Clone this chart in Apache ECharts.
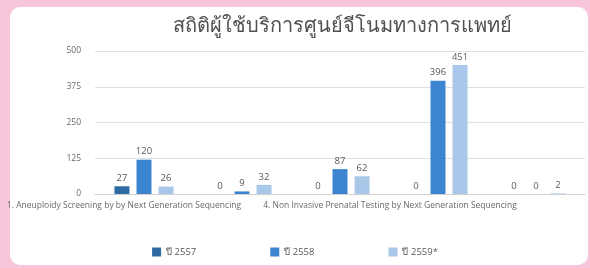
<!DOCTYPE html>
<html><head><meta charset="utf-8">
<script src="https://cdn.jsdelivr.net/npm/echarts@6/dist/echarts.min.js"></script>
<style>
html,body{margin:0;padding:0;background:#f7c6da;width:590px;height:268px;overflow:hidden}
#card{position:absolute;left:10px;top:7px;width:578px;height:258px;background:#fff;border-radius:10px}
#c{position:absolute;left:0;top:0;width:590px;height:268px}
</style></head><body>
<div id="card"></div>
<div id="c"></div>
<script>
const title = 'สถิติผู้ใช้บริการศูนย์จีโนมทางการแพทย์';
const categories = [
  '1. Aneuploidy Screening by by Next Generation Sequencing',
  '2.',
  '3.',
  '4. Non Invasive Prenatal Testing by Next Generation Sequencing',
  '5.'
];
const seriesNames = ['ปี 2557', 'ปี 2558', 'ปี 2559*'];
const y2557 = [27, 0, 0, 0, 0];
const y2558 = [120, 9, 87, 396, 0];
const y2559 = [26, 32, 62, 451, 2];
const yTicks = [0, 125, 250, 375, 500];
const colors = ['#2f6aa3', '#3d85d0', '#a9c7e8'];

const chart = echarts.init(document.getElementById('c'), null, {renderer:'canvas'});
const labelPad = [[0,40,0,0],[0,0,0,0],[0,0,0,0],[0,96,0,0],[0,0,0,0]];
const mk = (name, data, i) => ({
  name, type:'bar', data, barWidth:15, barGap:'47%',
  itemStyle:{color:colors[i]},
  label:{show:true, position:'top', color:'#595959', fontSize:9.5, fontFamily:'Open Sans', distance:3}
});
chart.setOption({
  animation:false,
  title:{text:title, left:337, top:11, textAlign:'center',
    textStyle:{fontSize:20, color:'#505050', fontWeight:'normal', fontFamily:'Noto Sans'}},
  legend:{bottom:6, left:'center', itemWidth:9, itemHeight:9, itemGap:74,
    icon:'rect', textStyle:{color:'#595959', fontSize:9.5, fontFamily:'Open Sans'}, data:seriesNames},
  grid:{left:95, right:5, top:51, bottom:74, containLabel:false, outerBoundsMode:'none'},
  xAxis:{type:'category',
    data:categories.map((c,i)=>({value:c, textStyle:{padding:labelPad[i]}})),
    axisTick:{show:false},
    axisLine:{lineStyle:{color:'#d0d0d0'}},
    axisLabel:{interval:2, color:'#6a6a6a', fontSize:8.5, fontFamily:'Open Sans', margin:7}},
  yAxis:{type:'value', min:yTicks[0], max:yTicks[yTicks.length-1], interval:125,
    axisLabel:{color:'#6a6a6a', fontSize:8.5, fontFamily:'Open Sans', margin:14},
    splitLine:{lineStyle:{color:'#e0e0e0'}}},
  series:[mk(seriesNames[0], y2557, 0), mk(seriesNames[1], y2558, 1), mk(seriesNames[2], y2559, 2)]
});
</script>
</body></html>
